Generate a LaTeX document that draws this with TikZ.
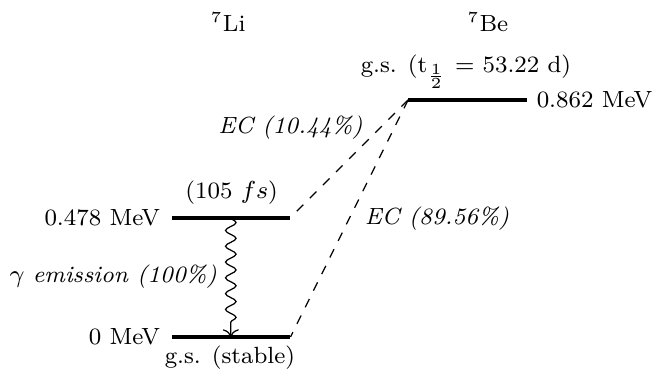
\documentclass[tikz,border=0pt]{standalone}
\usepackage{amsmath}
\usetikzlibrary{arrows.meta,positioning,decorations.pathmorphing}
\tikzset{
  level/.style={line width=1.3pt},
  energy/.style={inner sep=0pt},
  decay/.style={dashed,thin},
  gamma/.style={-To,thin,decorate,
    decoration={snake,amplitude=0.6mm,segment length=1.8mm,post length=1mm}}
}

\begin{document}
\begin{tikzpicture}[font=\fontsize{7.6}{9}\selectfont]
  \useasboundingbox (0,0) rectangle (7.43,4.30);

  % nuclei
  \node (li) at (2.60,4.05) {$^7$Li};
  \node (be) at (5.56,4.05) {$^7$Be};

  % levels
  \coordinate (liexL) at (1.96,1.82);
  \coordinate (liexR) at (3.31,1.82);
  \coordinate (ligsL) at (1.96,0.46);
  \coordinate (ligsR) at (3.31,0.46);
  \coordinate (begsL) at (4.65,3.16);
  \coordinate (begsR) at (6.01,3.16);
  \draw[level] (liexL) -- (liexR);
  \draw[level] (ligsL) -- (ligsR);
  \draw[level] (begsL) -- (begsR);

  % energies
  \node[energy,anchor=east] (eliex) at (1.83,1.82) {0.478 MeV};
  \node[energy,anchor=east] (eligs) at (1.83,0.46) {0 MeV};
  \node[energy,anchor=west] (ebegs) at (6.11,3.16) {0.862 MeV};
  \node (tbe) at (5.31,3.48) {g.s. (t$_{\frac{1}{2}}$ = 53.22 d)};
  \node (tli) at (2.64,2.11) {(105 $fs$)};
  \node (sli) at (2.62,0.23) {g.s. (stable)};

  % transitions
  \coordinate (gtop) at (2.63,1.82);
  \coordinate (gbot) at (2.63,0.46);
  \draw[decay] (begsL) -- (liexR);
  \draw[decay] (begsL) -- (ligsR);
  \draw[gamma] (gtop) -- (gbot);
  \node (ec1) at (3.31,2.84) {\textit{EC (10.44\%)}};
  \node (ec2) at (4.98,1.81) {\textit{EC (89.56\%)}};
  \node (gem) at (1.29,1.15) {$\gamma$ \textit{emission (100\%)}};

\end{tikzpicture}
\end{document}
